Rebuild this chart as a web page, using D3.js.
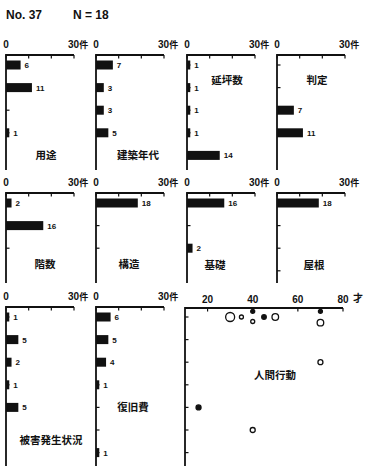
<!DOCTYPE html>
<html>
<head>
<meta charset="utf-8">
<script src="https://cdn.jsdelivr.net/npm/d3@7"></script>
<style>
  body { margin: 0; background: #fff; }
  svg { display: block; }
  text { font-family: "Liberation Sans", "DejaVu Sans", sans-serif; fill: #111; }
  .jp { font-family: "Noto Sans CJK JP", sans-serif; font-weight: 700; }
</style>
</head>
<body>
<svg id="chart" width="367" height="466"></svg>
<script>
// survey No.37, counts per answer (件)
var panelNames = ['用途', '建築年代', '延坪数', '判定', '階数', '構造', '基礎', '屋根', '被害発生状況', '復旧費'];
var youtoValues = [6, 11, 0, 1];
var nendaiValues = [7, 3, 3, 5];
var tsuboValues = [1, 1, 1, 1, 14];
var hanteiValues = [0, 0, 7, 11];
var kaisuValues = [2, 16, 0];
var kouzouValues = [18, 0, 0];
var kisoValues = [16, 0, 2];
var yaneValues = [18, 0, 0, 0];
var higaiValues = [1, 5, 2, 1, 5];
var fukkyuValues = [6, 5, 4, 1, 0, 0, 1];
var countTicks = [0, 10, 20, 30];

// 人間行動: age vs answer row
var actionName = '人間行動';
var actionAges = [30, 35, 40, 40, 45, 50, 70, 70, 70, 16, 40];
var actionRows = [0, 0, -0.25, 0.2, 0, 0, -0.25, 0.25, 2, 4, 5];
var actionSizes = [4.5, 2, 2, 2, 2.3, 3.3, 2, 3.3, 2.5, 2.5, 2.5];
var actionFilled = [false, false, true, false, true, false, true, false, false, true, false];
var actionRowCount = 7;
var ageTicks = [20, 40, 60, 80];

var svg = d3.select('#chart');

var cols = [6, 96, 187, 277];
var rows = [{ top: 55, bottom: 170 }, { top: 193, bottom: 283 }, { top: 307, bottom: 466 }];
var pitch = 22.6;
var barH = 9;
var axisW = 68;

var panelValues = [youtoValues, nendaiValues, tsuboValues, hanteiValues,
    kaisuValues, kouzouValues, kisoValues, yaneValues, higaiValues, fukkyuValues];
// name label positions, relative to the panel origin
var labelPos = [[40, 100], [42, 100], [40, 25], [40, 25],
    [39, 71], [33, 71], [28, 72], [37, 72], [45, 133], [37, 100]];

svg.append('text').attr('x', 6).attr('y', 19)
    .style('font-size', '12px').style('font-weight', 700).text('No. 37');
svg.append('text').attr('x', 73).attr('y', 19)
    .style('font-size', '12px').style('font-weight', 700).text('N = 18');

function drawFrame(g, x, row, nCats, yScale) {
    // top axis
    g.append('line')
        .attr('x1', x.range()[0]).attr('x2', x.range()[1])
        .attr('y1', 0).attr('y2', 0)
        .attr('stroke', '#111').attr('stroke-width', 1.8);
    // left axis
    g.append('line')
        .attr('x1', 0).attr('x2', 0)
        .attr('y1', -1).attr('y2', row.bottom - row.top)
        .attr('stroke', '#111').attr('stroke-width', 1.8);
    g.selectAll('.ytick')
        .data(d3.range(nCats))
        .enter().append('line')
        .attr('x1', 0).attr('x2', 3.5)
        .attr('y1', function(d) { return yScale(d); })
        .attr('y2', function(d) { return yScale(d); })
        .attr('stroke', '#111').attr('stroke-width', 1.2);
}

panelValues.forEach(function(values, i) {
    var row = rows[Math.floor(i / 4)];
    var ox = cols[i % 4];
    var g = svg.append('g').attr('transform', 'translate(' + ox + ',' + row.top + ')');

    var x = d3.scaleLinear().domain([0, 30]).range([0, axisW]);
    var y = d3.scaleLinear().domain([0, 1]).range([10, 10 + pitch]);

    drawFrame(g, x, row, values.length, y);

    g.selectAll('.xtick')
        .data(countTicks)
        .enter().append('line')
        .attr('x1', function(d) { return x(d); })
        .attr('x2', function(d) { return x(d); })
        .attr('y1', 0).attr('y2', 3.5)
        .attr('stroke', '#111').attr('stroke-width', 1.2);

    g.append('text').attr('x', x(0)).attr('y', -7)
        .attr('text-anchor', 'middle')
        .style('font-size', '10px').style('font-weight', 700).text('0');
    g.append('text').attr('x', x(30) - 6).attr('y', -7)
        .style('font-size', '10px').style('font-weight', 700)
        .text('30')
        .append('tspan').attr('class', 'jp').style('font-size', '9px').text('件');

    var bars = values.map(function(v, k) { return { v: v, k: k }; })
        .filter(function(d) { return d.v > 0; });

    g.selectAll('.bar')
        .data(bars)
        .enter().append('rect')
        .attr('x', x(0))
        .attr('y', function(d) { return y(d.k) - barH / 2; })
        .attr('width', function(d) { return x(d.v) - x(0) + 1; })
        .attr('height', barH)
        .attr('fill', '#111');

    g.selectAll('.val')
        .data(bars)
        .enter().append('text')
        .attr('x', function(d) { return x(d.v) + 5; })
        .attr('y', function(d) { return y(d.k) + 3; })
        .style('font-size', '8px').style('font-weight', 700)
        .text(function(d) { return d.v; });

    g.append('text').attr('class', 'jp')
        .attr('x', labelPos[i][0]).attr('y', labelPos[i][1] + 4)
        .attr('text-anchor', 'middle')
        .style('font-size', '10.5px')
        .text(panelNames[i]);
});

// scatter panel
(function() {
    var row = rows[2];
    var ox = 185;
    var g = svg.append('g').attr('transform', 'translate(' + ox + ',' + (row.top + 1) + ')');
    var x = d3.scaleLinear().domain([10, 80]).range([0, 158]);
    var y = d3.scaleLinear().domain([0, 1]).range([9, 9 + pitch]);

    drawFrame(g, x, { top: row.top + 1, bottom: row.bottom }, actionRowCount, y);

    g.selectAll('.xtick')
        .data(ageTicks)
        .enter().append('line')
        .attr('x1', function(d) { return x(d); })
        .attr('x2', function(d) { return x(d); })
        .attr('y1', 0).attr('y2', 3.5)
        .attr('stroke', '#111').attr('stroke-width', 1.2);

    g.selectAll('.xlab')
        .data(ageTicks)
        .enter().append('text')
        .attr('x', function(d) { return x(d); })
        .attr('y', -5)
        .attr('text-anchor', 'middle')
        .style('font-size', '10px').style('font-weight', 700)
        .text(function(d) { return d; });

    g.append('text').attr('class', 'jp')
        .attr('x', x(80) + 10).attr('y', -6)
        .style('font-size', '10px').text('才');

    var pts = actionAges.map(function(a, k) {
        return { age: a, row: actionRows[k], r: actionSizes[k], filled: actionFilled[k] };
    });

    g.selectAll('.pt')
        .data(pts)
        .enter().append('circle')
        .attr('cx', function(d) { return x(d.age); })
        .attr('cy', function(d) { return y(d.row); })
        .attr('r', function(d) { return d.r; })
        .attr('fill', function(d) { return d.filled ? '#111' : '#fff'; })
        .attr('stroke', '#111')
        .attr('stroke-width', 1.3);

    g.append('text').attr('class', 'jp')
        .attr('x', 90).attr('y', 71)
        .attr('text-anchor', 'middle')
        .style('font-size', '10.5px')
        .text(actionName);
})();
</script>
</body>
</html>
